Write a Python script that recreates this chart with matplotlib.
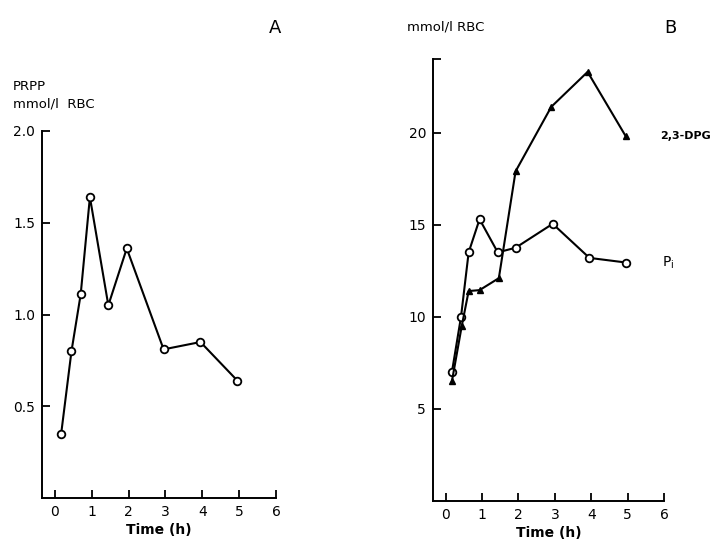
#!/usr/bin/env python3

"""
PRPP (A) and 2,3-DPG / Pi (B) in red cells over time
"""

import matplotlib.pyplot as plt

# Data

prpp_time = [0.17, 0.45, 0.7, 0.95, 1.45, 1.95, 2.95, 3.95, 4.95]
prpp = [0.35, 0.80, 1.11, 1.64, 1.05, 1.36, 0.81, 0.85, 0.64]

pi_time = [0.17, 0.42, 0.63, 0.93, 1.43, 1.92, 2.94, 3.95, 4.95]
pi = [7.0, 10.0, 13.5, 15.3, 13.5, 13.75, 15.05, 13.2, 12.95]

dpg_time = [0.17, 0.44, 0.63, 0.93, 1.46, 1.92, 2.9, 3.9, 4.95]
dpg = [6.5, 9.5, 11.4, 11.45, 12.1, 17.9, 21.4, 23.3, 19.8]

x_ticks = [0, 1, 2, 3, 4, 5, 6]
a_ticks = [0.5, 1.0, 1.5, 2.0]
a_labels = ["0.5", "1.0", "1.5", "2.0"]
b_ticks = [5, 10, 15, 20, 24]
b_labels = ["5", "10", "15", "20", ""]

W, H = 722, 554
fig = plt.figure(figsize=(W / 100, H / 100), dpi=100)


def px_axes(left, right, top, bottom):
    return fig.add_axes([left / W, 1 - bottom / H, (right - left) / W, (bottom - top) / H])


def style(ax):
    for s in ["top", "right"]:
        ax.spines[s].set_visible(False)
    for s in ["left", "bottom"]:
        ax.spines[s].set_linewidth(1.4)
    ax.tick_params(direction="in", length=6, width=1.3, labelsize=10, pad=5)
    ax.set_xticks(x_ticks)
    ax.set_xlim(-0.35, 6.0)
    ax.set_xlabel("Time (h)", fontsize=10, fontweight="bold", labelpad=3)


# Panel A

ax1 = px_axes(42, 276, 131, 498)
ax1.plot(prpp_time, prpp, "-o", color="black", lw=1.5,
         mfc="white", mec="black", ms=5.5, mew=1.3, clip_on=False)
ax1.set_ylim(0, 2.0)
ax1.set_yticks(a_ticks)
ax1.set_yticklabels(a_labels)
style(ax1)

fig.text(13 / W, 1 - 86 / H, "PRPP", fontsize=9.5, va="center")
fig.text(13 / W, 1 - 104 / H, "mmol/l  RBC", fontsize=9.5, va="center")
fig.text(275 / W, 1 - 28 / H, "A", fontsize=13, ha="center", va="center")

# Panel B

ax2 = px_axes(433, 664, 59, 501)
ax2.plot(pi_time, pi, "-o", color="black", lw=1.5,
         mfc="white", mec="black", ms=5.5, mew=1.3, clip_on=False)
ax2.plot(dpg_time, dpg, "-^", color="black", lw=1.5, ms=5, clip_on=False)
ax2.set_ylim(0, 24)
ax2.set_yticks(b_ticks)
ax2.set_yticklabels(b_labels)
style(ax2)

ax2.text(5.9, dpg[-1], "2,3-DPG", fontsize=8, fontweight="bold", va="center")
ax2.text(5.95, pi[-1], r"P$_\mathrm{i}$", fontsize=10, va="center")
fig.text(407 / W, 1 - 27 / H, "mmol/l RBC", fontsize=9.5, va="center")
fig.text(670 / W, 1 - 28 / H, "B", fontsize=13, ha="center", va="center")

fig.savefig("out.png", dpi=100)
